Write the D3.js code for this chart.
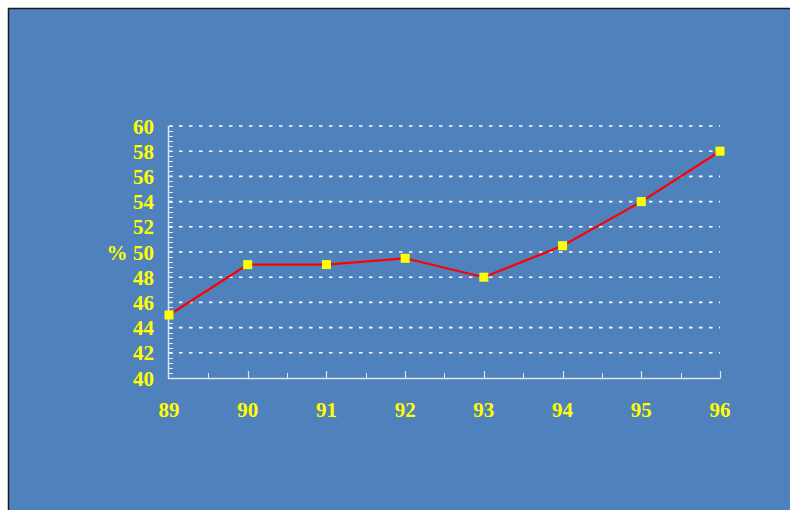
<!DOCTYPE html>
<html>
<head>
<meta charset="utf-8">
<script src="https://cdn.jsdelivr.net/npm/d3@7"></script>
<style>
  html, body { margin: 0; padding: 0; background: #fff; }
  svg { display: block; }
</style>
</head>
<body>
<svg width="790" height="510"></svg>
<script>
// Data
const years = ['89', '90', '91', '92', '93', '94', '95', '96'];
const values = [45, 49, 49, 49.5, 48, 50.5, 54, 58];
const yTicks = [40, 42, 44, 46, 48, 50, 52, 54, 56, 58, 60];

const svg = d3.select('svg');

// background panel
svg.append('rect')
    .attr('x', 8.5).attr('y', 8.5)
    .attr('width', 790).attr('height', 520)
    .attr('fill', '#4f81bd')
    .attr('stroke', '#1a1a1a')
    .attr('stroke-width', 1.5);

const x = d3.scalePoint().domain(years).range([169, 720]);
const y = d3.scaleLinear().domain([40, 60]).range([378, 126]);

const yellow = '#ffff00';
const font = '"Liberation Serif", "Times New Roman", serif';
const fontSize = 21;

// gridlines (dashed)
svg.append('g')
    .selectAll('line')
    .data(yTicks.filter(d => d > 40))
    .join('line')
    .attr('x1', x('89')).attr('x2', x('96'))
    .attr('y1', d => y(d)).attr('y2', d => y(d))
    .attr('stroke', '#fff')
    .attr('stroke-width', 1.6)
    .attr('stroke-dasharray', '3.5,6.5');

// y axis with minor ticks
const axisColor = '#dce6f2';
const yMinor = d3.range(40, 60.01, 0.4);
svg.append('g')
    .selectAll('line')
    .data(yMinor)
    .join('line')
    .attr('x1', x('89') - 0.5).attr('x2', x('89') + 4)
    .attr('y1', d => Math.round(y(d)) + 0.5).attr('y2', d => Math.round(y(d)) + 0.5)
    .attr('stroke', axisColor)
    .attr('stroke-width', 1);

svg.append('line')
    .attr('x1', x('89') - 0.5).attr('x2', x('89') - 0.5)
    .attr('y1', y(60)).attr('y2', y(40))
    .attr('stroke', axisColor).attr('stroke-width', 1.5);

// x axis
svg.append('line')
    .attr('x1', x('89') - 1).attr('x2', x('96') + 0.5)
    .attr('y1', y(40) + 0.5).attr('y2', y(40) + 0.5)
    .attr('stroke', axisColor).attr('stroke-width', 1.5);

const step = x.step();
const xMinor = d3.range(0, years.length - 1).map(i => x(years[i]) + step / 2);
svg.append('g')
    .selectAll('line')
    .data(xMinor)
    .join('line')
    .attr('x1', d => Math.round(d) + 0.5).attr('x2', d => Math.round(d) + 0.5)
    .attr('y1', y(40)).attr('y2', y(40) - 5)
    .attr('stroke', axisColor).attr('stroke-width', 1);

svg.append('g')
    .selectAll('line')
    .data(years.slice(1))
    .join('line')
    .attr('x1', d => Math.round(x(d)) + 0.5).attr('x2', d => Math.round(x(d)) + 0.5)
    .attr('y1', y(40)).attr('y2', y(40) - 7)
    .attr('stroke', axisColor).attr('stroke-width', 1.2);

// y tick labels
svg.append('g')
    .selectAll('text')
    .data(yTicks)
    .join('text')
    .attr('x', 154)
    .attr('y', d => y(d))
    .attr('dy', '0.36em')
    .attr('text-anchor', 'end')
    .attr('fill', yellow)
    .attr('font-family', font)
    .attr('font-weight', 'bold')
    .attr('font-size', fontSize)
    .text(d => d);

// % label
svg.append('text')
    .attr('x', 117).attr('y', y(50))
    .attr('dy', '0.36em')
    .attr('text-anchor', 'middle')
    .attr('fill', yellow)
    .attr('font-family', font)
    .attr('font-weight', 'bold')
    .attr('font-size', fontSize)
    .text('%');

// x tick labels
svg.append('g')
    .selectAll('text')
    .data(years)
    .join('text')
    .attr('x', d => x(d))
    .attr('y', 409)
    .attr('dy', '0.36em')
    .attr('text-anchor', 'middle')
    .attr('fill', yellow)
    .attr('font-family', font)
    .attr('font-weight', 'bold')
    .attr('font-size', fontSize)
    .text(d => d);

// line
const line = d3.line()
    .x((d, i) => x(years[i]))
    .y(d => y(d));

svg.append('path')
    .datum(values)
    .attr('d', line)
    .attr('fill', 'none')
    .attr('stroke', '#ff0000')
    .attr('stroke-width', 2.2);

// markers
svg.append('g')
    .selectAll('rect')
    .data(values)
    .join('rect')
    .attr('x', (d, i) => x(years[i]) - 4.5)
    .attr('y', d => y(d) - 4.5)
    .attr('width', 9).attr('height', 9)
    .attr('fill', yellow);
</script>
</body>
</html>
